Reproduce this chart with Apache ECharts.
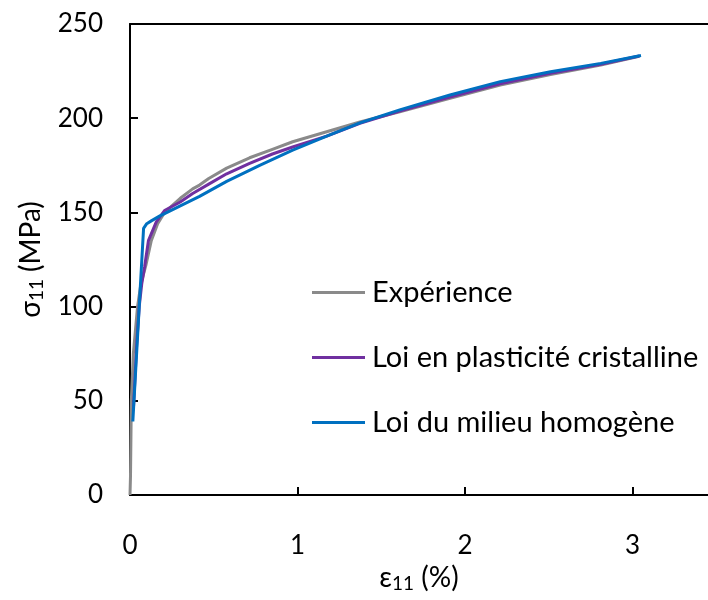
<!DOCTYPE html>
<html>
<head>
<meta charset="utf-8">
<script src="https://cdn.jsdelivr.net/npm/echarts@6/dist/echarts.min.js"></script>
<style>
html,body{margin:0;padding:0;background:#fff;overflow:hidden;}
#chart{width:708px;height:600px;}
</style>
</head>
<body>
<div id="chart"></div>
<script>
// Data (strain %, stress MPa)
const seriesNames = ['Expérience', 'Loi en plasticité cristalline', 'Loi du milieu homogène'];
const xTicks = [0, 1, 2, 3];
const yTicks = [0, 50, 100, 150, 200, 250];

const experienceStrain = [0, 0.003, 0.008, 0.02, 0.045, 0.065, 0.095, 0.127, 0.165, 0.2, 0.25, 0.3, 0.374, 0.415, 0.47, 0.577, 0.714, 0.85, 0.971, 1.174, 1.372, 1.61, 1.91, 2.21, 2.51, 2.81, 3.04];
const experienceStress = [0, 10, 50, 75, 100, 112, 122, 135, 144, 149, 153.5, 157.5, 162.5, 164.5, 168, 173.5, 179, 183.5, 187.5, 192.8, 198, 203.4, 210.6, 217.6, 223.2, 228.2, 232.8];

const crystalStrain = [0.02, 0.04, 0.055, 0.07, 0.087, 0.11, 0.157, 0.206, 0.3, 0.374, 0.47, 0.577, 0.714, 0.85, 0.971, 1.174, 1.372, 1.61, 1.91, 2.21, 2.51, 2.81, 3.04];
const crystalStress = [45, 80, 100, 112, 121, 135, 145, 151, 155.5, 160, 165, 170.5, 176, 181, 184.7, 190.5, 197.3, 203.8, 211.2, 218.3, 223.8, 228.6, 233];

const homogenStrain = [0.017, 0.081, 0.1, 0.127, 0.176, 0.3, 0.415, 0.577, 0.774, 0.971, 1.174, 1.372, 1.61, 1.91, 2.21, 2.51, 2.81, 3.05];
const homogenStress = [39, 141.5, 144, 145.5, 148, 153.5, 158.5, 166.5, 175, 183, 190.5, 197.5, 204.4, 212.3, 219.4, 224.7, 229.1, 233.3];

const colors = ['#8a8a8a', '#7030a0', '#0070c0'];
const FONT = 'Lato';

function pairs(xs, ys) { return xs.map((x, i) => [x, ys[i]]); }

const chart = echarts.init(document.getElementById('chart'), null, {renderer: 'canvas'});
const axisLineStyle = {color: '#000', width: 2};
const nameRich = {
  a: {fontFamily: FONT, fontSize: 28, color: '#000'},
  s: {fontFamily: FONT, fontSize: 19, color: '#000', padding: [12, 0, 0, 0]}
};
chart.setOption({
  animation: false,
  backgroundColor: '#fff',
  textStyle: {fontFamily: FONT},
  grid: {left: 130, right: 0, top: 24, bottom: 105, containLabel: false},
  legend: {
    orient: 'vertical',
    left: 312,
    top: 275,
    padding: 0,
    icon: 'rect',
    itemWidth: 53,
    itemHeight: 3,
    itemGap: 30,
    data: seriesNames,
    textStyle: {fontFamily: FONT, fontSize: 29, color: '#000', lineHeight: 35, padding: [0, 0, 0, 2]}
  },
  xAxis: [{
    type: 'value',
    min: 0, max: 3.45,
    interval: 1,
    name: '{a|ε}{s|11}{a| (%)}',
    nameLocation: 'middle',
    nameGap: 64,
    nameTextStyle: {rich: nameRich},
    splitLine: {show: false},
    axisLine: {show: true, lineStyle: axisLineStyle},
    axisTick: {show: true, inside: true, length: 8, lineStyle: axisLineStyle, customValues: xTicks},
    axisLabel: {color: '#000', fontSize: 26, fontFamily: FONT, margin: 38, customValues: xTicks}
  }, {
    type: 'value',
    position: 'top',
    min: 0, max: 3.45,
    splitLine: {show: false},
    axisLine: {show: true, onZero: false, lineStyle: axisLineStyle},
    axisTick: {show: false},
    axisLabel: {show: false}
  }],
  yAxis: {
    type: 'value',
    min: 0, max: 250, interval: 50,
    name: '{a|σ}{s|11}{a| (MPa)}',
    nameLocation: 'middle',
    nameRotate: 90,
    nameGap: 84,
    nameTextStyle: {rich: nameRich},
    splitLine: {show: false},
    axisLine: {show: true, lineStyle: axisLineStyle},
    axisTick: {show: true, inside: true, length: 8, lineStyle: axisLineStyle, customValues: yTicks},
    axisLabel: {color: '#000', fontSize: 26, fontFamily: FONT, margin: 27, customValues: yTicks}
  },
  series: [
    {name: seriesNames[0], type: 'line', data: pairs(experienceStrain, experienceStress), showSymbol: false, lineStyle: {width: 3, color: colors[0]}, itemStyle: {color: colors[0]}, z: 2},
    {name: seriesNames[1], type: 'line', data: pairs(crystalStrain, crystalStress), showSymbol: false, lineStyle: {width: 3, color: colors[1]}, itemStyle: {color: colors[1]}, z: 3},
    {name: seriesNames[2], type: 'line', data: pairs(homogenStrain, homogenStress), showSymbol: false, lineStyle: {width: 3, color: colors[2]}, itemStyle: {color: colors[2]}, z: 4}
  ]
});
</script>
</body>
</html>
